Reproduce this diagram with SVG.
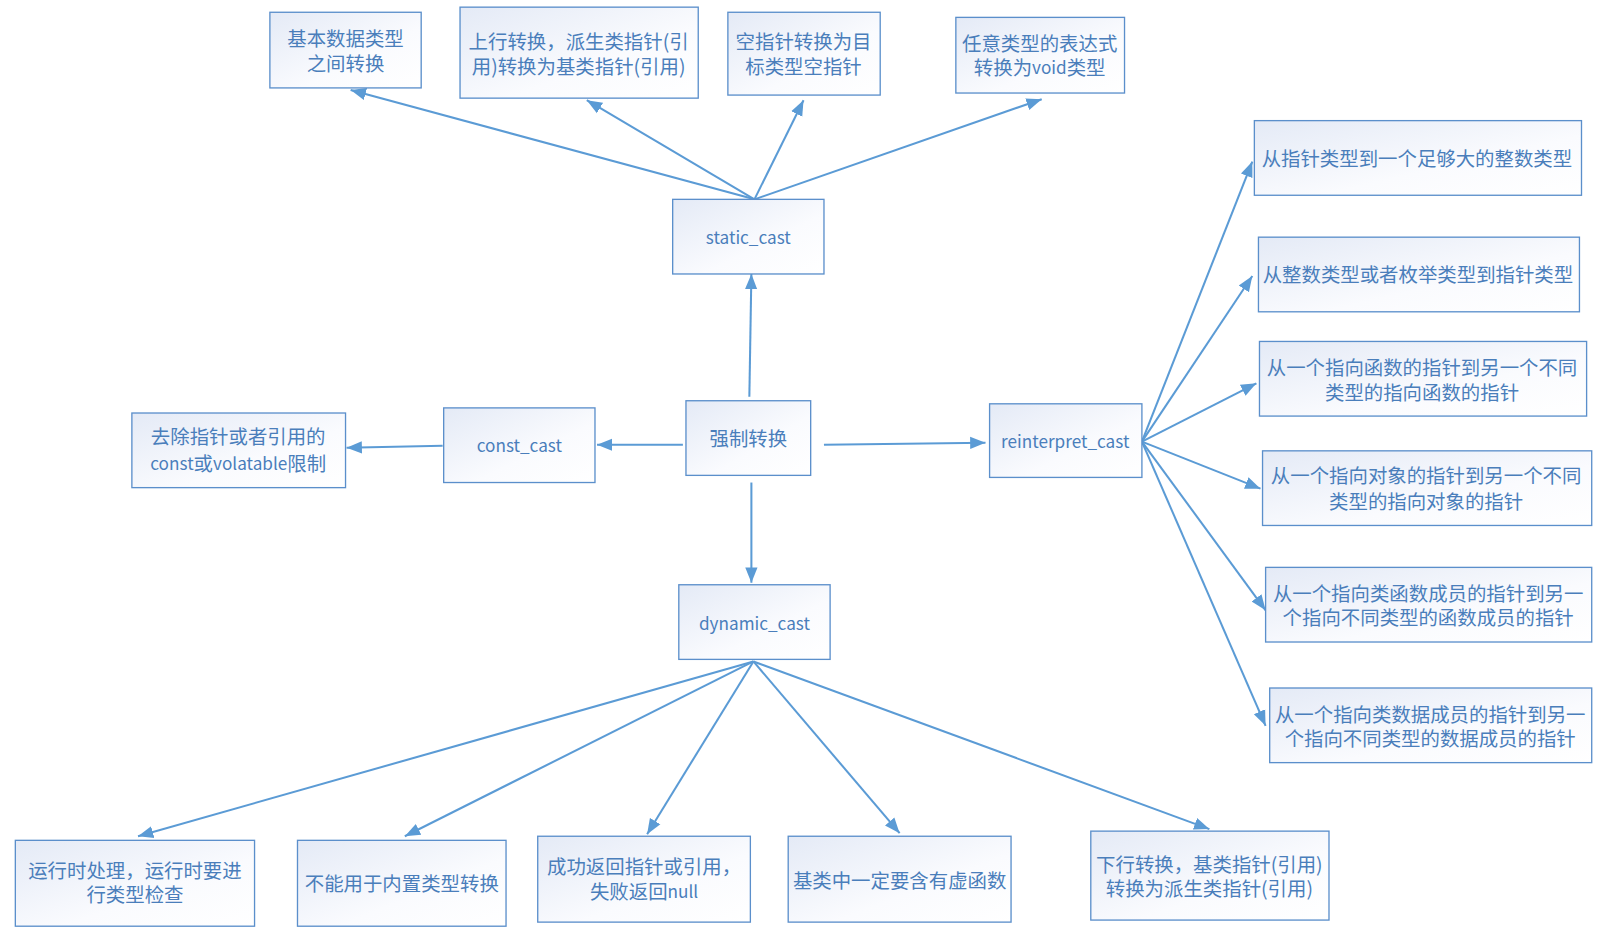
<svg xmlns="http://www.w3.org/2000/svg" width="1603" height="937" viewBox="0 0 1603 937">
<style>
.box{fill:url(#g);stroke:#5b8fcb;stroke-width:1.3}
.t{font-family:"Noto Sans CJK SC","Noto Sans",sans-serif;font-size:19px;fill:#4a7ebb;text-anchor:middle;dominant-baseline:central}
.l{font-size:16.8px}
.c{stroke:#5b9bd5;stroke-width:2;fill:none;marker-end:url(#a)}
</style>
<defs>
<linearGradient id="g" x1="0" y1="0" x2="1" y2="1">
<stop offset="0" stop-color="#e4eaf6"/>
<stop offset="0.6" stop-color="#fafbfe"/>
<stop offset="1" stop-color="#ffffff"/>
</linearGradient>
<marker id="a" markerUnits="userSpaceOnUse" markerWidth="16" markerHeight="14" refX="15" refY="6" orient="auto" viewBox="0 0 16 12">
<path d="M0,0 L15,6 L0,12 Z" fill="#5b9bd5"/>
</marker>
</defs>
<rect width="1603" height="937" fill="#ffffff"/>
<g transform="scale(1.0223)">
<g id="connectors">
<line class="c" x1="733" y1="388" x2="735" y2="268"/>
<line class="c" x1="668" y1="435" x2="584" y2="435"/>
<line class="c" x1="433" y1="436" x2="339" y2="438"/>
<line class="c" x1="806" y1="435" x2="964" y2="433"/>
<line class="c" x1="735" y1="472" x2="735" y2="570"/>
<line class="c" x1="738" y1="195" x2="343" y2="88"/>
<line class="c" x1="738" y1="195" x2="574" y2="98"/>
<line class="c" x1="738" y1="195" x2="786" y2="98"/>
<line class="c" x1="738" y1="195" x2="1019" y2="97"/>
<line class="c" x1="1117" y1="432" x2="1225" y2="158"/>
<line class="c" x1="1117" y1="432" x2="1225" y2="270"/>
<line class="c" x1="1117" y1="432" x2="1229" y2="375"/>
<line class="c" x1="1117" y1="432" x2="1233" y2="478"/>
<line class="c" x1="1117" y1="432" x2="1238" y2="597"/>
<line class="c" x1="1117" y1="432" x2="1238" y2="710"/>
<line class="c" x1="737" y1="647" x2="135" y2="818"/>
<line class="c" x1="737" y1="647" x2="396" y2="818"/>
<line class="c" x1="737" y1="647" x2="633" y2="816"/>
<line class="c" x1="737" y1="647" x2="880" y2="815"/>
<line class="c" x1="737" y1="647" x2="1183" y2="811"/>
</g>
<g id="b1"><rect class="box" x="264" y="12" width="148" height="74"/><text class="t"><tspan x="338" y="36">基本数据类型</tspan><tspan x="338" y="61">之间转换</tspan></text></g>
<g id="b2"><rect class="box" x="450" y="7" width="233" height="89"/><text class="t"><tspan x="566" y="39">上行转换，派生类指针(引</tspan><tspan x="566" y="64">用)转换为基类指针(引用)</tspan></text></g>
<g id="b3"><rect class="box" x="712" y="12" width="149" height="81"/><text class="t"><tspan x="786" y="39">空指针转换为目</tspan><tspan x="786" y="64">标类型空指针</tspan></text></g>
<g id="b4"><rect class="box" x="935" y="17" width="165" height="74"/><text class="t"><tspan x="1017" y="41">任意类型的表达式</tspan><tspan x="1017" y="65">转换为<tspan class="l">void</tspan>类型</tspan></text></g>
<g id="static"><rect class="box" x="658" y="195" width="148" height="73"/><text class="t l" x="732" y="231">static_cast</text></g>
<g id="main"><rect class="box" x="671" y="392" width="122" height="73"/><text class="t" x="732" y="428">强制转换</text></g>
<g id="const"><rect class="box" x="434" y="399" width="148" height="73"/><text class="t l" x="508" y="435">const_cast</text></g>
<g id="b8"><rect class="box" x="129" y="404" width="209" height="73"/><text class="t"><tspan x="233" y="426">去除指针或者引用的</tspan><tspan x="233" y="452"><tspan class="l">const</tspan>或<tspan class="l">volatable</tspan>限制</tspan></text></g>
<g id="reinterpret"><rect class="box" x="968" y="395" width="149" height="72"/><text class="t l" x="1042" y="431">reinterpret_cast</text></g>
<g id="dynamic"><rect class="box" x="664" y="572" width="148" height="73"/><text class="t l" x="738" y="609">dynamic_cast</text></g>
<g id="r1"><rect class="box" x="1227" y="118" width="320" height="73"/><text class="t" x="1386" y="154">从指针类型到一个足够大的整数类型</text></g>
<g id="r2"><rect class="box" x="1231" y="232" width="314" height="73"/><text class="t" x="1387" y="268">从整数类型或者枚举类型到指针类型</text></g>
<g id="r3"><rect class="box" x="1232" y="334" width="320" height="73"/><text class="t"><tspan x="1391" y="358">从一个指向函数的指针到另一个不同</tspan><tspan x="1391" y="382">类型的指向函数的指针</tspan></text></g>
<g id="r4"><rect class="box" x="1235" y="441" width="322" height="73"/><text class="t"><tspan x="1395" y="464">从一个指向对象的指针到另一个不同</tspan><tspan x="1395" y="489">类型的指向对象的指针</tspan></text></g>
<g id="r5"><rect class="box" x="1238" y="555" width="319" height="73"/><text class="t"><tspan x="1397" y="579">从一个指向类函数成员的指针到另一</tspan><tspan x="1397" y="603">个指向不同类型的函数成员的指针</tspan></text></g>
<g id="r6"><rect class="box" x="1242" y="673" width="315" height="73"/><text class="t"><tspan x="1399" y="697">从一个指向类数据成员的指针到另一</tspan><tspan x="1399" y="721">个指向不同类型的数据成员的指针</tspan></text></g>
<g id="d1"><rect class="box" x="15" y="822" width="234" height="84"/><text class="t"><tspan x="132" y="850">运行时处理，运行时要进</tspan><tspan x="132" y="874">行类型检查</tspan></text></g>
<g id="d2"><rect class="box" x="291" y="822" width="204" height="84"/><text class="t" x="393" y="863">不能用于内置类型转换</text></g>
<g id="d3"><rect class="box" x="526" y="818" width="208" height="84"/><text class="t"><tspan x="630" y="846">成功返回指针或引用，</tspan><tspan x="630" y="871">失败返回<tspan class="l">null</tspan></tspan></text></g>
<g id="d4"><rect class="box" x="771" y="818" width="218" height="84"/><text class="t" x="880" y="860">基类中一定要含有虚函数</text></g>
<g id="d5"><rect class="box" x="1067" y="813" width="233" height="87"/><text class="t"><tspan x="1183" y="844">下行转换，基类指针(引用)</tspan><tspan x="1183" y="868">转换为派生类指针(引用)</tspan></text></g>
</g>
</svg>
